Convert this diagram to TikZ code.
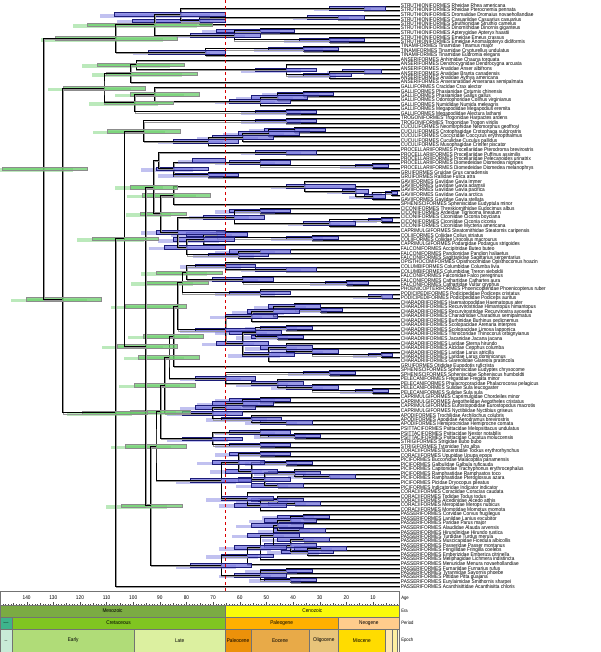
\documentclass[tikz,border=0pt]{standalone}
\usepackage{fontspec}
\setmainfont{Liberation Sans}[FakeStretch=0.88]
\usetikzlibrary{calc}
\definecolor{hpdblue}{RGB}{118,118,222}
\definecolor{hpdline}{RGB}{28,28,120}
\definecolor{hpdgreen}{RGB}{104,206,104}
\definecolor{mesozoic}{RGB}{123,171,67}
\definecolor{cenozoic}{RGB}{250,250,10}
\definecolor{jurassic}{RGB}{62,180,140}
\definecolor{cretaceous}{RGB}{128,197,33}
\definecolor{paleogene}{RGB}{255,176,0}
\definecolor{neogene}{RGB}{255,204,140}
\definecolor{latejur}{RGB}{200,235,215}
\definecolor{earlycret}{RGB}{176,220,120}
\definecolor{latecret}{RGB}{220,240,160}
\definecolor{paleocene}{RGB}{236,145,10}
\definecolor{eocene}{RGB}{232,170,72}
\definecolor{oligocene}{RGB}{232,196,122}
\definecolor{miocene}{RGB}{255,220,0}
\definecolor{pliocene}{RGB}{255,232,176}
\definecolor{pleistocene}{RGB}{255,240,160}
\definecolor{holocene}{RGB}{255,250,225}
% clade: name, x, upper child, lower child, bar from, bar to, bar style
\newcommand{\clade}[7]{%
  \path let \p1=($(#3)!.5!(#4)$), \p2=(#2,0) in (\x2,\y1) coordinate (#1);
  \drawclade{#1}{#3}{#4}{#5}{#6}{#7}}
% clade placed at a given height: name, x, y, upper child, lower child, bar from, bar to, bar style
\newcommand{\cladeat}[8]{%
  \coordinate (#1) at (#2,#3);
  \drawclade{#1}{#4}{#5}{#6}{#7}{#8}}
\newcommand{\drawclade}[6]{%
  \draw[ghost] (#2) -| (#1) |- (#3);
  \draw[branch] (#2) -| (#1) |- (#3);
  \path[#6,paler] let \p1=(#1), \p2=({#4-18},0), \p3=({#5-18},0) in (\x2,\y1-1.8pt) rectangle (\x3,\y1+1.8pt);
  \path[#6] let \p1=(#1), \p2=(#4,0), \p3=(#5,0) in (\x2,\y1-1.8pt) rectangle (\x3,\y1+1.8pt);}
% time scale box: name, x1, x2, y1, y2, colour, text
\newcommand{\tsbox}[7]{%
  \path[tsband,fill=#6] (#2,#4) rectangle (#3,#5);
  \node[tstext] (#1) at ($(#2,#4)!.5!(#3,#5)$) {#7};}
\begin{document}
\begin{tikzpicture}[x=0.8667pt,y=-1pt,
  tip/.style={anchor=west,inner sep=1.2pt,font=\fontsize{5.4}{5.4}\selectfont},
  branch/.style={line width=0.8pt,black},
  ghost/.style={line width=0.8pt,black!40,transform canvas={xshift=0.7pt,yshift=-1.3pt}},
  hpd/.style={fill=hpdblue,fill opacity=.75,draw=hpdline,line width=.4pt},
  hpdm/.style={fill=hpdgreen,fill opacity=.75,draw=black!45,line width=.4pt},
  paler/.style={draw=none,fill opacity=.45,transform canvas={xshift=0.7pt,yshift=-1.3pt}},
  tsband/.style={draw=black!55,line width=.3pt},
  tstext/.style={inner sep=0pt,font=\fontsize{5.4}{5.4}\selectfont},
  tsname/.style={anchor=west,inner sep=1.5pt,font=\fontsize{4.8}{4.8}\selectfont},
  agelab/.style={inner sep=0pt,font=\fontsize{5.4}{5.4}\selectfont},
  tick/.style={line width=.3pt,black!70}]
\useasboundingbox (0,0) rectangle (692.3,652);

% tips
\foreach \lab [count=\i] in {STRUTHIONIFORMES Rheidae Rhea americana, STRUTHIONIFORMES Rheidae Pterocnemia pennata, STRUTHIONIFORMES Dromaiidae Dromaius novaehollandiae, STRUTHIONIFORMES Casuariidae Casuarius casuarius, STRUTHIONIFORMES Struthionidae Struthio camelus, STRUTHIONIFORMES Dinornithidae Dinornis giganteus, STRUTHIONIFORMES Apterygidae Apteryx haastii, STRUTHIONIFORMES Emeidae Emeus crassus, STRUTHIONIFORMES Emeidae Anomalopteryx didiformis, TINAMIFORMES Tinamidae Tinamus major, TINAMIFORMES Tinamidae Crypturellus undulatus, TINAMIFORMES Tinamidae Eudromia elegans, ANSERIFORMES Anhimidae Chauna torquata, ANSERIFORMES Dendrocygnidae Dendrocygna arcuata, ANSERIFORMES Anatidae Anser albifrons, ANSERIFORMES Anatidae Branta canadensis, ANSERIFORMES Anatidae Aythya americana, ANSERIFORMES Anseranatidae Anseranas semipalmata, GALLIFORMES Cracidae Crax alector, GALLIFORMES Phasianidae Coturnix chinensis, GALLIFORMES Phasianidae Gallus gallus, GALLIFORMES Odontophoridae Colinus virginianus, GALLIFORMES Numididae Numida meleagris, GALLIFORMES Megapodiidae Megapodius eremita, GALLIFORMES Megapodiidae Alectura lathami, TROGONIFORMES Trogonidae Harpactes ardens, TROGONIFORMES Trogonidae Trogon viridis, CUCULIFORMES Neomorphidae Neomorphus geoffroyi, CUCULIFORMES Crotophagidae Crotophaga sulcirostris, CUCULIFORMES Coccyzidae Coccyzus erythropthalmus, CUCULIFORMES Cuculidae Cuculus pallidus, CUCULIFORMES Musophagidae Crinifer piscator, PROCELLARIIFORMES Procellariidae Pterodroma brevirostris, PROCELLARIIFORMES Procellariidae Puffinus assimilis, PROCELLARIIFORMES Procellariidae Pelecanoides urinatrix, PROCELLARIIFORMES Diomedeidae Diomedea nigripes, PROCELLARIIFORMES Diomedeidae Diomedea melanophrys, GRUIFORMES Gruidae Grus canadensis, GRUIFORMES Rallidae Fulica atra, GAVIIFORMES Gaviidae Gavia immer, GAVIIFORMES Gaviidae Gavia adamsii, GAVIIFORMES Gaviidae Gavia pacifica, GAVIIFORMES Gaviidae Gavia arctica, GAVIIFORMES Gaviidae Gavia stellata, SPHENISCIFORMES Spheniscidae Eudyptula minor, CICONIIFORMES Threskiornithidae Eudocimus albus, CICONIIFORMES Ardeidae Tigrisoma lineatum, CICONIIFORMES Ciconiidae Ciconia boyciana, CICONIIFORMES Ciconiidae Ciconia ciconia, CICONIIFORMES Ciconiidae Mycteria americana, CAPRIMULGIFORMES Steatornithidae Steatornis caripensis, COLIIFORMES Coliidae Colius striatus, COLIIFORMES Coliidae Urocolius macrourus, CAPRIMULGIFORMES Podargidae Podargus strigoides, FALCONIFORMES Accipitridae Buteo buteo, FALCONIFORMES Pandionidae Pandion haliaetus, FALCONIFORMES Sagittariidae Sagittarius serpentarius, OPISTHOCOMIFORMES Opisthocomidae Opisthocomus hoazin, COLUMBIFORMES Columbidae Columba livia, COLUMBIFORMES Columbidae Treron sieboldii, FALCONIFORMES Falconidae Falco peregrinus, FALCONIFORMES Cathartidae Cathartes aura, FALCONIFORMES Cathartidae Vultur gryphus, PHOENICOPTERIFORMES Phoenicopteridae Phoenicopterus ruber, PODICIPEDIFORMES Podicipedidae Podiceps cristatus, PODICIPEDIFORMES Podicipedidae Podiceps auritus, CHARADRIIFORMES Haematopodidae Haematopus ater, CHARADRIIFORMES Recurvirostridae Himantopus himantopus, CHARADRIIFORMES Recurvirostridae Recurvirostra avosetta, CHARADRIIFORMES Charadriidae Charadrius semipalmatus, CHARADRIIFORMES Burhinidae Burhinus oedicnemus, CHARADRIIFORMES Scolopacidae Arenaria interpres, CHARADRIIFORMES Scolopacidae Limosa lapponica, CHARADRIIFORMES Thinocoridae Thinocorus orbignyianus, CHARADRIIFORMES Jacanidae Jacana jacana, CHARADRIIFORMES Laridae Sterna hirundo, CHARADRIIFORMES Alcidae Cepphus columba, CHARADRIIFORMES Laridae Larus atricilla, CHARADRIIFORMES Laridae Larus dominicanus, CHARADRIIFORMES Glareolidae Glareola pratincola, GRUIFORMES Otididae Eupodotis ruficrista, SPHENISCIFORMES Spheniscidae Eudyptes chrysocome, SPHENISCIFORMES Spheniscidae Spheniscus humboldti, PELECANIFORMES Fregatidae Fregata minor, PELECANIFORMES Phalacrocoracidae Phalacrocorax pelagicus, PELECANIFORMES Sulidae Sula leucogaster, PELECANIFORMES Sulidae Sula sula, CAPRIMULGIFORMES Caprimulgidae Chordeiles minor, CAPRIMULGIFORMES Aegothelidae Aegotheles cristatus, CAPRIMULGIFORMES Eurostopodidae Eurostopodus macrotis, CAPRIMULGIFORMES Nyctibiidae Nyctibius griseus, APODIFORMES Trochilidae Archilochus colubris, APODIFORMES Apodidae Aerodramus brevirostris, APODIFORMES Hemiprocnidae Hemiprocne comata, PSITTACIFORMES Psittacidae Melopsittacus undulatus, PSITTACIFORMES Psittacidae Nestor notabilis, PSITTACIFORMES Psittacidae Cacatua moluccensis, STRIGIFORMES Strigidae Bubo bubo, STRIGIFORMES Tytonidae Tyto alba, CORACIIFORMES Bucerotidae Tockus erythrorhynchus, CORACIIFORMES Upupidae Upupa epops, PICIFORMES Bucconidae Malacoptila panamensis, PICIFORMES Galbulidae Galbula ruficauda, PICIFORMES Capitonidae Trachyphonus erythrocephalus, PICIFORMES Ramphastidae Ramphastos toco, PICIFORMES Ramphastidae Pteroglossus azara, PICIFORMES Picidae Dryocopus pileatus, PICIFORMES Indicatoridae Indicator indicator, CORACIIFORMES Coraciidae Coracias caudata, CORACIIFORMES Todidae Todus todus, CORACIIFORMES Alcedinidae Alcedo atthis, CORACIIFORMES Meropidae Merops nubicus, CORACIIFORMES Momotidae Momotus momota, PASSERIFORMES Corvidae Corvus frugilegus, PASSERIFORMES Laniidae Lanius excubitor, PASSERIFORMES Paridae Parus major, PASSERIFORMES Alaudidae Alauda arvensis, PASSERIFORMES Hirundinidae Hirundo rustica, PASSERIFORMES Turdidae Turdus merula, PASSERIFORMES Muscicapidae Ficedula albicollis, PASSERIFORMES Passeridae Passer montanus, PASSERIFORMES Fringillidae Fringilla coelebs, PASSERIFORMES Emberizidae Emberiza citrinella, PASSERIFORMES Meliphagidae Lichmera indistincta, PASSERIFORMES Menuridae Menura novaehollandiae, PASSERIFORMES Furnariidae Furnarius rufus, PASSERIFORMES Tyrannidae Sayornis phoebe, PASSERIFORMES Pittidae Pitta guajana, PASSERIFORMES Eurylaimidae Smithornis sharpei, PASSERIFORMES Acanthisittidae Acanthisitta chloris}
  \node[tip] (t\i) at (461,{6+4.5*(\i-1)}) {\lab};

% palaeognaths
\clade{rhea}{420}{t1}{t2}{380}{445}{hpd}
\clade{emcas}{390}{t3}{t4}{355}{420}{hpd}
\clade{emost}{230}{emcas}{t5}{152}{260}{hpd}
\clade{rhemo}{208}{rhea}{emost}{132}{260}{hpd}
\clade{dinap}{300}{t6}{t7}{250}{340}{hpd}
\clade{moa}{380}{t8}{t9}{345}{420}{hpd}
\clade{kimo}{270}{dinap}{moa}{220}{300}{hpd}
\clade{ratite}{178}{rhemo}{kimo}{101}{245}{hpdm}
\clade{tinb}{350}{t10}{t11}{310}{390}{hpd}
\clade{tina}{237}{tinb}{t12}{171}{260}{hpd}
\clade{paleo}{133}{ratite}{tina}{64}{205}{hpdm}
% galloanserae
\clade{ansa}{420}{t15}{t16}{395}{440}{hpd}
\clade{ansb}{380}{ansa}{t17}{350}{405}{hpd}
\clade{ansc}{330}{t14}{ansb}{295}{365}{hpd}
\clade{ansd}{157}{t13}{ansc}{112}{213}{hpdm}
\clade{anser}{151}{ansd}{t18}{123}{227}{hpdm}
\clade{gala}{350}{t20}{t21}{320}{385}{hpd}
\clade{galb}{320}{gala}{t22}{290}{355}{hpd}
\clade{galc}{300}{galb}{t23}{265}{335}{hpd}
\clade{gald}{178}{t19}{galc}{150}{230}{hpdm}
\clade{gale}{330}{t24}{t25}{295}{365}{hpd}
\clade{galli}{155}{gald}{gale}{120}{200}{hpdm}
\clade{galans}{120}{anser}{galli}{73}{168}{hpdm}
% trogons and cuckoos
\clade{trog}{330}{t26}{t27}{295}{365}{hpd}
\clade{cuca}{340}{t28}{t29}{305}{375}{hpd}
\clade{cucb}{310}{cuca}{t30}{275}{345}{hpd}
\clade{cucc}{280}{cucb}{t31}{245}{315}{hpd}
\clade{cucd}{240}{cucc}{t32}{200}{275}{hpd}
\clade{trcu}{166}{trog}{cucd}{124}{208}{hpdm}
% tubenoses, cranes, loons, storks
\clade{proa}{330}{t33}{t34}{295}{365}{hpd}
\clade{dio}{430}{t36}{t37}{410}{448}{hpd}
\clade{prob}{300}{t35}{dio}{265}{335}{hpd}
\clade{grui}{240}{t38}{t39}{200}{275}{hpd}
\clade{prgr}{200}{prob}{grui}{180}{240}{hpd}
\clade{proce}{183}{proa}{prgr}{222}{260}{hpd}
\clade{gava}{452}{t42}{t43}{445}{458}{hpd}
\clade{gavb}{430}{gava}{t44}{420}{445}{hpd}
\clade{gavc}{410}{t41}{gavb}{395}{425}{hpd}
\clade{gavi}{351}{t40}{gavc}{330}{410}{hpd}
\clade{gasp}{200}{gavi}{t45}{164}{243}{hpdm}
\clade{cica}{440}{t48}{t49}{425}{452}{hpd}
\clade{cicb}{380}{cica}{t50}{350}{410}{hpd}
\clade{cicc}{300}{t46}{t47}{265}{335}{hpd}
\clade{cico}{270}{cicc}{cicb}{235}{305}{hpd}
\clade{coli}{360}{t52}{t53}{330}{390}{hpd}
\clade{stco}{250}{t51}{coli}{215}{285}{hpd}
\clade{stpo}{235}{stco}{t54}{200}{270}{hpd}
\clade{acca}{300}{t55}{t56}{265}{335}{hpd}
\clade{accb}{275}{acca}{t57}{240}{310}{hpd}
\clade{stac}{215}{stpo}{accb}{189}{260}{hpd}
\clade{cist}{205}{cico}{stac}{180}{260}{hpd}
\clade{lost}{185}{gasp}{cist}{162}{215}{hpdm}
\clade{upper}{177}{proce}{lost}{150}{205}{hpdm}
% pigeons to waders
\clade{colu}{330}{t59}{t60}{295}{365}{hpd}
\clade{opco}{260}{t58}{colu}{225}{295}{hpd}
\clade{cath}{400}{t62}{t63}{375}{425}{hpd}
\clade{falc}{280}{t61}{cath}{245}{315}{hpd}
\clade{podi}{440}{t65}{t66}{425}{452}{hpd}
\clade{phpo}{300}{t64}{podi}{265}{335}{hpd}
\clade{chaa}{370}{t68}{t69}{345}{395}{hpd}
\clade{chab}{340}{t67}{chaa}{310}{370}{hpd}
\clade{chac}{315}{chab}{t70}{285}{345}{hpd}
\clade{chad}{290}{chac}{t71}{260}{320}{hpd}
\clade{chae}{330}{t72}{t73}{300}{360}{hpd}
\clade{chaf}{320}{t74}{t75}{290}{350}{hpd}
\clade{chag}{295}{chae}{chaf}{265}{325}{hpd}
\clade{chah}{440}{t78}{t79}{425}{452}{hpd}
\clade{chai}{360}{t77}{chah}{330}{390}{hpd}
\clade{chaj}{330}{t76}{chai}{300}{360}{hpd}
\clade{chak}{310}{chaj}{t80}{280}{340}{hpd}
\clade{chal}{280}{chag}{chak}{250}{310}{hpd}
\clade{chara}{260}{chad}{chal}{225}{295}{hpd}
% seabirds, nightjars, swifts
\clade{sphe}{380}{t82}{t83}{350}{410}{hpd}
\clade{pela}{430}{t86}{t87}{410}{448}{hpd}
\clade{pelb}{360}{t85}{pela}{330}{390}{hpd}
\clade{pelc}{320}{t84}{pelb}{290}{350}{hpd}
\clade{spel}{260}{sphe}{pelc}{225}{295}{hpd}
\clade{capa}{300}{t88}{t89}{265}{335}{hpd}
\clade{capb}{280}{capa}{t90}{245}{315}{hpd}
\clade{capc}{260}{capb}{t91}{225}{295}{hpd}
\clade{apoa}{330}{t93}{t94}{300}{360}{hpd}
\clade{apob}{290}{t92}{apoa}{255}{325}{hpd}
\clade{capap}{245}{capc}{apob}{210}{280}{hpd}
% parrots, owls, land birds
\clade{psia}{340}{t96}{t97}{310}{370}{hpd}
\clade{psib}{300}{t95}{psia}{265}{335}{hpd}
\clade{stri}{300}{t98}{t99}{265}{335}{hpd}
\clade{psst}{245}{psib}{stri}{210}{280}{hpd}
\clade{cpa}{300}{t100}{t101}{265}{335}{hpd}
\clade{cpb}{330}{t102}{t103}{300}{360}{hpd}
\clade{cpc}{380}{t105}{t106}{350}{410}{hpd}
\clade{cpd}{340}{t104}{cpc}{310}{370}{hpd}
\clade{cpe}{320}{t107}{t108}{290}{350}{hpd}
\clade{cpf}{305}{cpd}{cpe}{275}{335}{hpd}
\clade{cpg}{290}{cpb}{cpf}{260}{320}{hpd}
\clade{cph}{275}{cpa}{cpg}{245}{305}{hpd}
\clade{cpi}{340}{t111}{t112}{310}{370}{hpd}
\clade{cpj}{320}{t110}{cpi}{290}{350}{hpd}
\clade{cpk}{300}{cpj}{t113}{270}{330}{hpd}
\clade{cpl}{285}{t109}{cpk}{255}{315}{hpd}
\clade{corpic}{255}{cph}{cpl}{220}{290}{hpd}
% passerines
\clade{pasa}{350}{t114}{t115}{320}{380}{hpd}
\clade{pasb}{335}{pasa}{t116}{305}{365}{hpd}
\clade{pasc}{345}{t117}{t118}{315}{375}{hpd}
\clade{pasd}{320}{pasb}{pasc}{290}{350}{hpd}
\clade{pase}{350}{t119}{t120}{320}{380}{hpd}
\clade{pasf}{370}{t121}{t122}{340}{400}{hpd}
\clade{pasg}{355}{pasf}{t123}{325}{385}{hpd}
\clade{pash}{335}{pase}{pasg}{305}{365}{hpd}
\clade{pasi}{315}{pasd}{pash}{285}{345}{hpd}
\clade{pasj}{300}{pasi}{t124}{270}{330}{hpd}
\clade{pask}{285}{pasj}{t125}{255}{315}{hpd}
\clade{pasl}{330}{t126}{t127}{300}{360}{hpd}
\clade{pasm}{335}{t128}{t129}{305}{365}{hpd}
\clade{pasn}{300}{pasl}{pasm}{270}{330}{hpd}
\clade{passer}{255}{pask}{pasn}{220}{290}{hpd}
% backbone of neoaves
\clade{nba}{215}{opco}{falc}{180}{256}{hpdm}
\clade{nbb}{210}{nba}{phpo}{168}{240}{hpdm}
\clade{nbc}{205}{nbb}{chara}{145}{215}{hpdm}
\clade{nbd}{200}{nbc}{t81}{165}{235}{hpdm}
\clade{nbe}{195}{nbd}{spel}{160}{230}{hpdm}
\clade{nbf}{190}{nbe}{capap}{155}{225}{hpdm}
\clade{nbg}{185}{nbf}{psst}{150}{220}{hpdm}
\clade{nbh}{180}{nbg}{corpic}{145}{215}{hpdm}
\clade{lower}{174}{nbh}{passer}{140}{210}{hpdm}
\clade{nbi}{168}{upper}{lower}{135}{205}{hpdm}
\clade{nbj}{143}{trcu}{nbi}{106}{183}{hpdm}
\clade{neo}{133}{nbj}{t130}{95}{170}{hpdm}
\cladeat{neog}{72}{299}{galans}{neo}{30}{117}{hpdm}
\clade{root}{50}{paleo}{neog}{3}{101}{hpdm}

% K-Pg boundary
\draw[red!85!black,dashed,line width=.6pt] (259.7,0) -- (259.7,605);

% time scale
\path[tsband,fill=white] (0,591) rectangle (461,605);
\foreach \a in {1,...,149} \draw[tick] ({461-3.073*\a},605) -- ++(0,-1.5);
\foreach \a in {5,15,...,145} \draw[tick] ({461-3.073*\a},605) -- ++(0,-2.5);
\foreach \a in {10,20,...,140} {
  \draw[tick] ({461-3.073*\a},605) -- ++(0,-3.5);
  \node[agelab] (age\a) at ({461-3.073*\a},597.5) {\a};}
\tsbox{meso}{0}{259.7}{605}{617}{mesozoic}{Mesozoic}
\tsbox{ceno}{259.7}{461}{605}{617}{cenozoic}{Cenozoic}
\tsbox{jura}{0}{13.9}{617}{629}{jurassic}{\fontsize{1.6}{1.6}\selectfont Jurassic}
\tsbox{cret}{13.9}{259.7}{617}{629}{cretaceous}{Cretaceous}
\tsbox{paleog}{259.7}{390.2}{617}{629}{paleogene}{Paleogene}
\tsbox{neogn}{390.2}{461}{617}{629}{neogene}{Neogene}
\tsbox{ljur}{0}{13.9}{629}{652}{latejur}{\fontsize{1.6}{1.6}\selectfont Late}
\tsbox{ecret}{13.9}{155}{629}{652}{earlycret}{Early}
\tsbox{lcret}{155}{259.7}{629}{652}{latecret}{Late}
\tsbox{paleoc}{259.7}{289.5}{629}{652}{paleocene}{Paleocene}
\tsbox{eoc}{289.5}{356.8}{629}{652}{eocene}{Eocene}
\tsbox{oligo}{356.8}{390.2}{629}{652}{oligocene}{Oligocene}
\tsbox{mioc}{390.2}{444.6}{629}{652}{miocene}{Miocene}
\tsbox{plio}{444.6}{453}{629}{652}{pliocene}{}
\tsbox{pleis}{453}{458}{629}{652}{pleistocene}{}
\tsbox{holo}{458}{461}{629}{652}{holocene}{}
\node[tsname] (agename) at (461,598) {Age};
\node[tsname] (eraname) at (461,611) {Era};
\node[tsname] (periodname) at (461,623) {Period};
\node[tsname] (epochname) at (461,640.5) {Epoch};
\end{tikzpicture}
\end{document}
